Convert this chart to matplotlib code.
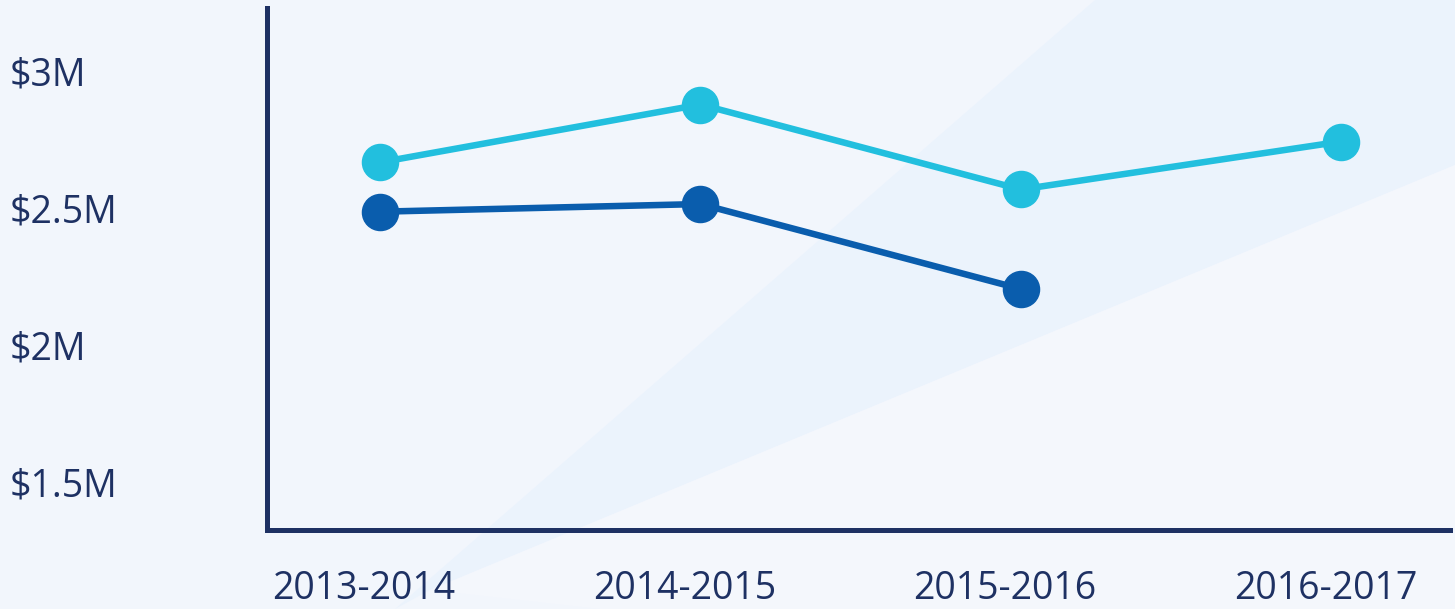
import matplotlib
matplotlib.use("Agg")
import matplotlib.pyplot as plt
from matplotlib.patches import Polygon
from matplotlib.transforms import ScaledTranslation

plt.rcParams['font.family'] = ['Open Sans', 'DejaVu Sans']

categories = ["2013-2014", "2014-2015", "2015-2016", "2016-2017"]
series_light = [2.665, 2.876, 2.566, 2.741]   # $M
series_dark = [2.485, 2.513, 2.203]            # $M
ytick_values = [1.5, 2.0, 2.5, 3.0]
ytick_labels = ["$1.5M", "$2M", "$2.5M", "$3M"]

W, H = 1455, 609
fig = plt.figure(figsize=(W / 100, H / 100), dpi=100)
bg = "#f2f6fc"
fig.patch.set_facecolor(bg)

# faint diagonal decoration
def px(x, y):
    return (x / W, 1 - y / H)

band = Polygon([px(395, 609), px(1095, 0), px(1455, 0), px(1455, 165), px(430, 590)],
               closed=True, transform=fig.transFigure, facecolor="#ebf3fc",
               edgecolor="none", zorder=-10)
fig.patches.append(band)
lower = Polygon([px(430, 590), px(1455, 165), px(1455, 609), px(600, 609)],
                closed=True, transform=fig.transFigure, facecolor="#f4f7fc",
                edgecolor="none", zorder=-10)
fig.patches.append(lower)

ax = fig.add_axes([267 / W, 1 - 530 / H, (1450 - 267) / W, (530 - 8) / H])
ax.patch.set_alpha(0)
ax.set_zorder(5)

navy = "#1e3163"
light = "#22bfde"
dark = "#0a5dad"

x_light = list(range(len(series_light)))
x_dark = list(range(len(series_dark)))
ax.plot(x_light, series_light, color=light, lw=4.7, marker="o", ms=26,
        solid_capstyle="round", zorder=3)
ax.plot(x_dark, series_dark, color=dark, lw=4.7, marker="o", ms=26,
        solid_capstyle="round", zorder=3)

ax.set_xlim(-0.3526, 3.339)
ax.set_ylim(1.324, 3.228)

for s in ["top", "right"]:
    ax.spines[s].set_visible(False)
for s in ["left", "bottom"]:
    ax.spines[s].set_color(navy)
    ax.spines[s].set_linewidth(3.6)
    ax.spines[s].set_capstyle("projecting")

ax.set_xticks(range(len(categories)))
ax.set_xticklabels(categories, fontsize=27, color=navy)
ax.set_yticks(ytick_values)
ax.set_yticklabels(ytick_labels, fontsize=27, color=navy)
ax.tick_params(axis="both", length=0)
ax.tick_params(axis="y", pad=185)
ax.tick_params(axis="x", pad=29)
for lab in ax.get_yticklabels():
    lab.set_horizontalalignment("left")
shift = ScaledTranslation(-16 / 100, 0, fig.dpi_scale_trans)
for lab in ax.get_xticklabels():
    lab.set_transform(lab.get_transform() + shift)

fig.savefig("out.png", dpi=100, facecolor=bg)
